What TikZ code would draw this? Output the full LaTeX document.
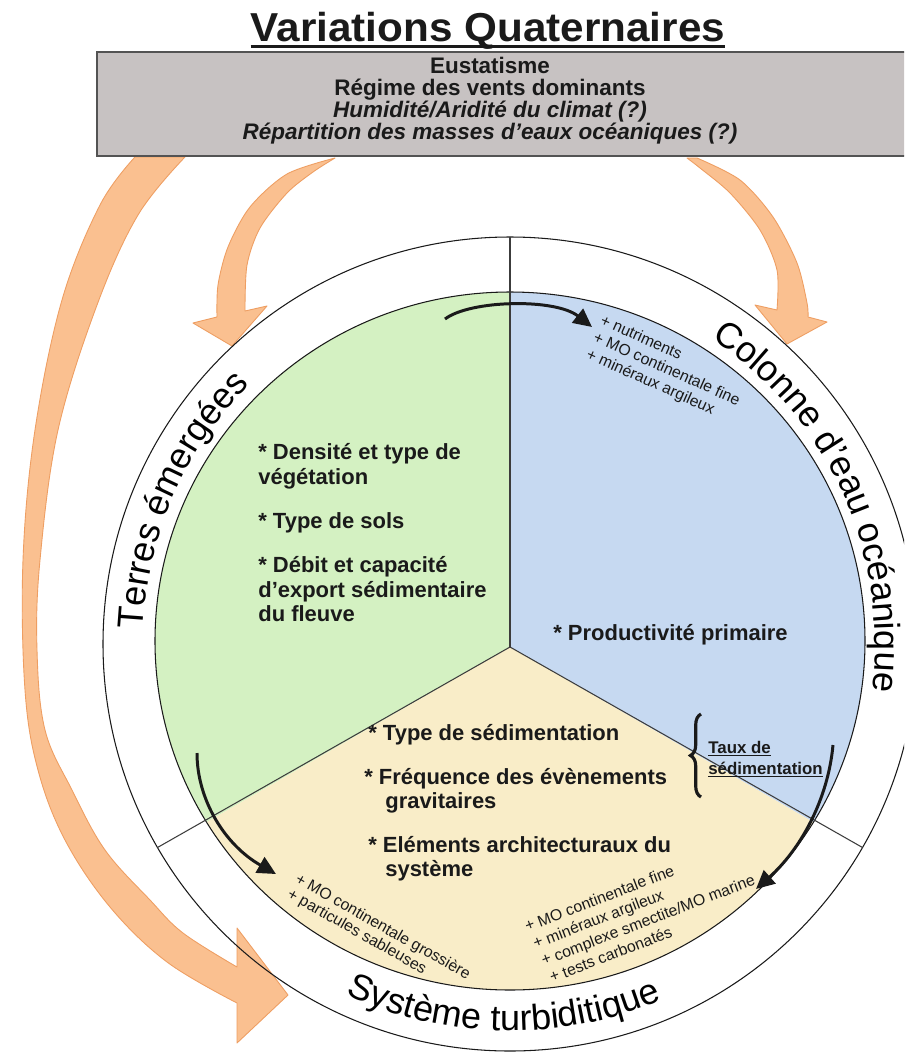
\documentclass[tikz,border=0pt]{standalone}
\usepackage{fontspec}
\setmainfont{Liberation Sans}
\usetikzlibrary{arrows.meta,decorations.text,decorations.pathreplacing}
\definecolor{secgreen}{HTML}{D4F1C2}
\definecolor{secblue}{HTML}{C6D9F1}
\definecolor{sectan}{HTML}{F9EDC8}
\definecolor{boxgray}{HTML}{C7C2C2}
\definecolor{arrfill}{HTML}{FAC090}
\definecolor{arredge}{HTML}{EE9E62}
\definecolor{ink}{HTML}{1A1A1A}
\newcommand\mylblfont{\fontsize{20.5}{21}\selectfont}
\tikzset{
  orangearrow/.style={fill=arrfill, draw=arredge, line width=0.5pt, line join=round},
  blackarrow/.style={draw=ink, line width=1.7pt, -{Triangle[length=10.5pt,width=10pt]}},
  bodytext/.style={anchor=base west, inner sep=0pt, font=\bfseries\fontsize{12.5}{14}\selectfont, text=ink},
  smalltext/.style={anchor=base west, inner sep=0pt, font=\fontsize{9}{10}\selectfont, text=ink},
  boxtext/.style={anchor=base, inner sep=0pt, font=\bfseries\fontsize{12.8}{12.8}\selectfont, text=ink},
  divider/.style={draw=ink!85, line width=0.6pt},
  ringline/.style={draw=ink, line width=0.6pt},
}
\begin{document}
\begin{tikzpicture}[x=0.02cm, y=-0.02cm]
\useasboundingbox (0,0) rectangle (904,1052);
\clip (0,0) rectangle (904,1052);
\fill[white] (0,0) rectangle (904,1052);

% ---------- orange arrows ----------
\filldraw[orangearrow] plot[smooth, tension=0.6] coordinates {(135,157) (100,205) (62,300) (35,430) (23,560) (25,690) (38,770) (65,840) (110,907) (167,962) (237,1003)}
  -- (237,1043) -- (288,995) -- (237,928) -- (237,967)
  -- plot[smooth, tension=0.6] coordinates {(237,967) (183,933) (150,900) (105,850) (72,790) (45,730) (37,650) (40,560) (58,430) (97,305) (138,215) (185,157)} -- cycle;
\filldraw[orangearrow] plot[smooth] coordinates {(335,158) (287,174) (250,207) (228,247) (218,285) (217,317)}
  -- (193,323) -- (232,346) -- (267,306) -- (245,311)
  -- plot[smooth] coordinates {(245,311) (247,265) (260,228) (287,193) (313,172) (335,158)} -- cycle;
\filldraw[orangearrow] plot[smooth] coordinates {(687,158) (700,168) (730,193) (760,230) (777,270) (777,310)}
  -- (755,305) -- (787,344) -- (827,322) -- (808,317)
  -- plot[smooth] coordinates {(808,317) (807,303) (797,263) (773,217) (740,180) (697,158)} -- cycle;

% ---------- sectors ----------
\coordinate (C) at (510,647);
\begin{scope}
  \clip (510,641) ellipse [x radius=355, y radius=349];
  \fill[secgreen] (C) -- (510,47) -- (-9.6,347) -- (-9.6,947) -- cycle;
  \fill[secblue] (C) -- (1029.6,947) -- (1029.6,347) -- (510,47) -- cycle;
  \fill[sectan] (C) -- (-9.6,947) -- (510,1247) -- (1029.6,947) -- cycle;
\end{scope}
\draw[ringline] (510,641) ellipse [x radius=355, y radius=349];
\draw[ringline] (510,644) circle [radius=407];
\coordinate (Dtop) at (510,237);
\coordinate (Dleft) at (157.5,847.5);
\coordinate (Dright) at (862.5,847.5);
\draw[divider] (C) -- (Dtop);
\draw[divider] (C) -- (Dleft);
\draw[divider] (C) -- (Dright);

% ---------- ring labels ----------
\path[decorate, decoration={text along path, text align=center, text={|\mylblfont|Terres émergées}}]
  plot[variable=\t, domain=0:1, samples=90] ({510+367*cos(201.5-90*\t)}, {643-367*sin(201.5-90*\t)});
\path[decorate, decoration={text along path, text align=center, text={|\mylblfont|Colonne d’eau océanique}}]
  plot[variable=\t, domain=0:1, samples=90] ({510+365*cos(69.5-90*\t)}, {643-365*sin(69.5-90*\t)});
\path[decorate, decoration={text along path, text align=center, text={|\mylblfont|Système turbiditique}}]
  plot[variable=\t, domain=0:1, samples=90] ({510+388*cos(-141+100*\t)}, {643-388*sin(-141+100*\t)});

% ---------- black arrows ----------
\coordinate (a1s) at (445,319); \coordinate (a1e) at (592,327);
\coordinate (a2s) at (197,753); \coordinate (a2e) at (276,874);
\coordinate (a3s) at (833,745); \coordinate (a3e) at (756,889);
\draw[blackarrow] (a1s) .. controls (470,300) and (555,298) .. (a1e);
\draw[blackarrow] (a2s) .. controls (197,800) and (225,845) .. (a2e);
\draw[blackarrow] (a3s) .. controls (828,800) and (800,850) .. (a3e);

% ---------- brace ----------
\coordinate (b1) at (701,797); \coordinate (b2) at (701,714);
\draw[draw=ink, line width=1.8pt, decorate, decoration={brace, amplitude=6pt}] (b1) -- (b2);
\node[anchor=base west, inner sep=0pt, font=\bfseries\fontsize{9.6}{10}\selectfont, text=ink] (taux1) at (708,753) {\underline{Taux de}};
\node[anchor=base west, inner sep=0pt, font=\bfseries\fontsize{9.6}{10}\selectfont, text=ink] (taux2) at (708,774) {\underline{sédimentation}};

% ---------- sector texts ----------
\node[bodytext] (g1) at (258,459) {* Densité et type de};
\node[bodytext] (g2) at (258,484) {végétation};
\node[bodytext] (g3) at (258,528) {* Type de sols};
\node[bodytext] (g4) at (258,572) {* Débit et capacité};
\node[bodytext] (g5) at (258,597) {d’export sédimentaire};
\node[bodytext] (g6) at (258,621) {du fleuve};
\node[bodytext] (b1t) at (553,640) {* Productivité primaire};
\node[bodytext] (t1) at (368,740) {* Type de sédimentation};
\node[bodytext] (t2) at (364,784) {* Fréquence des évènements};
\node[bodytext] (t3) at (385,808) {gravitaires};
\node[bodytext] (t4) at (368,852) {* Eléments architecturaux du};
\node[bodytext] (t5) at (385,876) {système};

% ---------- small lists ----------
\node[smalltext, rotate=-24] (tr1) at (599,324) {+ nutriments};
\node[smalltext, rotate=-24] (tr2) at (592,341) {+ MO continentale fine};
\node[smalltext, rotate=-24] (tr3) at (585,358) {+ minéraux argileux};
\node[smalltext, rotate=-29.5] (bl1) at (294,882) {+ MO continentale grossière};
\node[smalltext, rotate=-29.5] (bl2) at (286,897) {+ particules sableuses};
\node[smalltext, rotate=21] (br1) at (527,932) {+ MO continentale fine};
\node[smalltext, rotate=21] (br2) at (535.3,949) {+ minéraux argileux};
\node[smalltext, rotate=21] (br3) at (543.6,966) {+ complexe smectite/MO marine};
\node[smalltext, rotate=21] (br4) at (551.9,983) {+ tests carbonatés};

% ---------- top box ----------
\filldraw[fill=boxgray, draw=ink!75, line width=0.6pt] (97,52) rectangle (910,156);
\node[boxtext] (e1) at (490,73) {Eustatisme};
\node[boxtext] (e2) at (490,95) {Régime des vents dominants};
\node[boxtext] (e3) at (490,117) {\itshape Humidité/Aridité du climat (?)};
\node[boxtext] (e4) at (490,139) {\itshape Répartition des masses d’eaux océaniques (?)};

% ---------- title ----------
\node[anchor=base, inner sep=0pt, font=\bfseries\fontsize{23}{26}\selectfont, text=ink] (title) at (488,41) {\scalebox{1.045}[1]{Variations Quaternaires}};
\draw[ink, line width=1.5pt] ([yshift=-3.2pt]title.base west) -- ([yshift=-3.2pt]title.base east);
\end{tikzpicture}
\end{document}
